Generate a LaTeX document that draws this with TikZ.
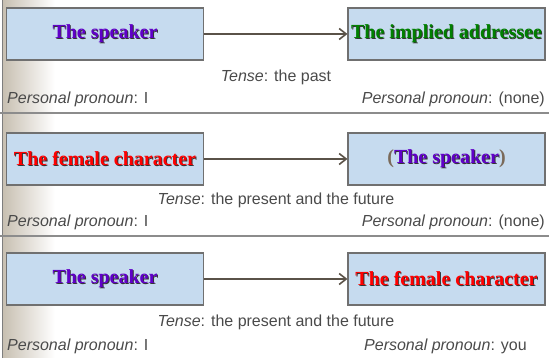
\documentclass[tikz,border=0pt]{standalone}
\usepackage{fontspec}
\setmainfont{Liberation Serif}
\setsansfont{Liberation Sans}
\usetikzlibrary{arrows.meta}
\definecolor{boxfill}{HTML}{C6DBEF}
\definecolor{boxline}{HTML}{707070}
\definecolor{arrowcol}{HTML}{5A5248}
\definecolor{notecol}{HTML}{4A4A4A}
\definecolor{rulecol}{HTML}{8C8C8C}
\definecolor{edgecol}{HTML}{C8C0B2}
\definecolor{speakercol}{HTML}{6000C8}
\definecolor{addrcol}{HTML}{008000}
\definecolor{femalecol}{HTML}{FF0000}
\definecolor{parencol}{HTML}{7A6A5A}
% bold serif label with a dark drop shadow
\newcommand{\shadowed}[2]{\rlap{\hspace{0.9pt}\raisebox{-0.9pt}{\textcolor{black!80}{#2}}}\textcolor{#1}{#2}}
% the same, wrapped in plain (unshadowed) parentheses
\newcommand{\shadowedparen}[2]{\rlap{\hspace{0.9pt}\raisebox{-0.9pt}{\textcolor{black!80}{\textcolor{boxfill}{(}#2\textcolor{boxfill}{)}}}}\textcolor{parencol}{(}\textcolor{#1}{#2}\textcolor{parencol}{)}}
\tikzset{
  rolebox/.style={draw=boxline, fill=boxfill, line width=1.1pt,
    minimum width=197pt, minimum height=52pt, inner sep=0pt,
    font=\fontsize{20}{24}\selectfont\bfseries},
  link/.style={draw=arrowcol, line width=1.8pt, -{Straight Barb[length=7pt,width=11pt,line width=1.6pt]}},
  note/.style={text=notecol, font=\sffamily\fontsize{16}{19}\selectfont, inner sep=0pt},
  divider/.style={draw=rulecol, line width=1.4pt}
}
\begin{document}
\begin{tikzpicture}[x=1pt,y=-1pt]
\useasboundingbox (0,0) rectangle (549,358);
% left margin shading and rule
\shade[left color=edgecol, right color=white] (3,0) rectangle (55,358);
\draw[draw=rulecol!90!black, line width=1.2pt] (2.5,0) -- (2.5,358);
% row dividers
\coordinate (d1a) at (0,113); \coordinate (d1b) at (549,113);
\coordinate (d2a) at (0,236); \coordinate (d2b) at (549,236);
\draw[divider] (d1a) -- (d1b);
\draw[divider] (d2a) -- (d2b);

% row 1
\node[rolebox] (s1) at (105,34) {\shadowed{speakercol}{The speaker}};
\node[rolebox] (a1) at (446.5,34) {\shadowed{addrcol}{The implied addressee}};
\draw[link] (s1.east) -- (a1.west);
\node[note] (t1) at (276,77) {\textit{Tense}: the past};
\node[note, anchor=west] (p1) at (7,99) {\textit{Personal pronoun}: I};
\node[note, anchor=east] (q1) at (545,99) {\textit{Personal pronoun}: (none)};

% row 2
\node[rolebox] (f2) at (105,159) {\shadowed{femalecol}{The female character}};
\node[rolebox] (s2) at (446.5,159) {\shadowedparen{speakercol}{The speaker}};
\draw[link] (f2.east) -- (s2.west);
\node[note] (t2) at (276,200) {\textit{Tense}: the present and the future};
\node[note, anchor=west] (p2) at (7,222) {\textit{Personal pronoun}: I};
\node[note, anchor=east] (q2) at (545,222) {\textit{Personal pronoun}: (none)};

% row 3
\node[rolebox] (s3) at (105,279) {\shadowed{speakercol}{The speaker}};
\node[rolebox] (f3) at (446.5,279) {\shadowed{femalecol}{The female character}};
\draw[link] (s3.east) -- (f3.west);
\node[note] (t3) at (276,322) {\textit{Tense}: the present and the future};
\node[note, anchor=west] (p3) at (7,346) {\textit{Personal pronoun}: I};
\node[note, anchor=west] (q3) at (364,346) {\textit{Personal pronoun}: you};
\end{tikzpicture}
\end{document}
